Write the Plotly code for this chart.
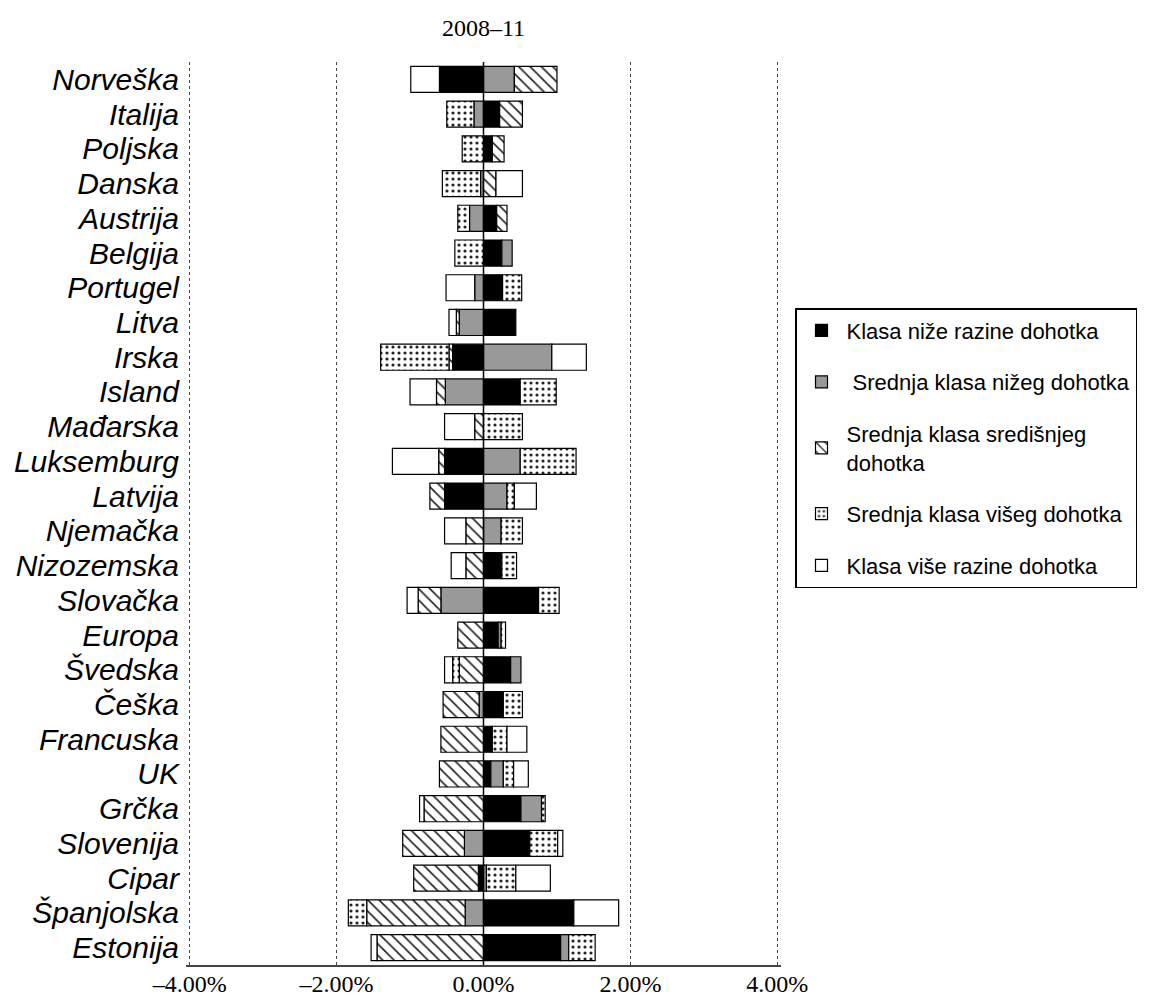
import plotly.graph_objects as go

countries = ["Norveška", "Italija", "Poljska", "Danska", "Austrija", "Belgija", "Portugel",
             "Litva", "Irska", "Island", "Mađarska", "Luksemburg", "Latvija", "Njemačka",
             "Nizozemska", "Slovačka", "Europa", "Švedska", "Češka", "Francuska", "UK",
             "Grčka", "Slovenija", "Cipar", "Španjolska", "Estonija"]

# contributions (percentage points); None = no segment
lower = [-0.60, 0.22, 0.12, None, 0.18, 0.25, 0.26, 0.44, -0.42, 0.50, None, -0.53, -0.53, None,
         0.25, 0.75, 0.20, 0.37, 0.27, 0.12, 0.10, 0.51, 0.63, -0.07, 1.23, 1.05]
lower_middle = [0.42, -0.13, None, -0.04, -0.19, 0.14, -0.12, -0.33, 0.93, -0.52, None, 0.50, 0.32, 0.24,
                None, -0.58, 0.04, 0.14, -0.06, None, 0.17, 0.28, -0.26, 0.04, -0.25, 0.11]
middle = [0.58, 0.31, 0.16, 0.17, 0.14, None, None, -0.04, -0.05, -0.12, -0.12, -0.08, -0.20, -0.24,
          -0.24, -0.31, -0.35, -0.33, -0.49, -0.58, -0.60, -0.81, -0.84, -0.88, -1.34, -1.45]
upper_middle = [None, -0.37, -0.29, -0.52, -0.16, -0.39, 0.26, None, -0.93, 0.49, 0.53, 0.76, 0.10, 0.29,
                0.20, 0.28, 0.06, -0.09, 0.26, 0.20, 0.14, 0.05, 0.38, 0.40, -0.25, 0.36]
upper = [-0.39, None, None, 0.36, None, None, -0.39, -0.10, 0.47, -0.36, -0.41, -0.63, 0.30, -0.29,
         -0.20, -0.15, None, -0.11, None, 0.27, 0.20, -0.06, 0.07, 0.47, 0.61, -0.08]

series_names = ["Klasa niže razine dohotka", " Srednja klasa nižeg dohotka",
                "Srednja klasa središnjeg<br>dohotka", "Srednja klasa višeg dohotka",
                "Klasa više razine dohotka"]
tick_vals = [-4, -2, 0, 2, 4]
tick_text = ["–4.00%", "–2.00%", "0.00%", "2.00%", "4.00%"]
title_text = "2008–11"

styles = [
    dict(color="#000000", pattern=dict(shape="")),
    dict(color="#999999", pattern=dict(shape="")),
    dict(color="white", pattern=dict(shape="\\", fgcolor="#222222", bgcolor="white", size=8, solidity=0.2, fillmode="replace")),
    dict(color="white", pattern=dict(shape=".", fgcolor="#222222", bgcolor="white", size=6, solidity=0.22, fillmode="replace")),
    dict(color="white", pattern=dict(shape="")),
]

fig = go.Figure()
for i, (name, vals, st) in enumerate(zip(series_names, [lower, lower_middle, middle, upper_middle, upper], styles)):
    fig.add_trace(go.Bar(
        y=countries, x=vals, orientation="h", name=name, legendgroup=f"g{i}",
        marker=dict(color=st["color"], pattern=st["pattern"], line=dict(color="black", width=1.2)),
    ))

fig.add_shape(type="line", xref="x", yref="paper", x0=0, x1=0, y0=0, y1=1.0,
              line=dict(color="black", width=1.5), layer="above")

# page body adds an 8px offset; figure is sized to compensate
W, H = 1167, 995
L, R, T, B = 178, 394, 54, 38
PW, PH = W - L - R, H - T - B
fig.update_layout(
    width=W, height=H,
    barmode="relative", bargap=0.25,
    plot_bgcolor="white", paper_bgcolor="white",
    margin=dict(l=L, r=R, t=T, b=B, autoexpand=False),
    title=dict(text=title_text, x=(L + PW / 2) / W, xanchor="center", y=1 - 20 / H, yanchor="middle",
               font=dict(family="Liberation Serif", size=24, color="black")),
    showlegend=True,
    legend=dict(x=(787 - L) / PW, y=(957 - 300) / PH, xanchor="left", yanchor="top",
                bordercolor="black", borderwidth=1.5, bgcolor="white",
                font=dict(family="Liberation Sans", size=22, color="black"),
                tracegroupgap=20, traceorder="grouped", itemwidth=40),
    xaxis=dict(range=[-4.05, 4.05], tickvals=tick_vals, ticktext=tick_text,
               showgrid=True, gridcolor="#444444", griddash="dot", gridwidth=1.2,
               zeroline=False, showline=True, linecolor="#444444", linewidth=2,
               tickfont=dict(family="Liberation Serif", size=24, color="black"),
               ticks="", ticklabelstandoff=-4, automargin=False),
    yaxis=dict(autorange="reversed", showgrid=False, zeroline=False, showline=False,
               tickmode="array", tickvals=countries, ticktext=countries,
               tickfont=dict(family="Liberation Sans", size=30, color="black", style="italic"),
               ticks="", ticklabelstandoff=6, automargin=False),
)

fig.write_html("out.html")
